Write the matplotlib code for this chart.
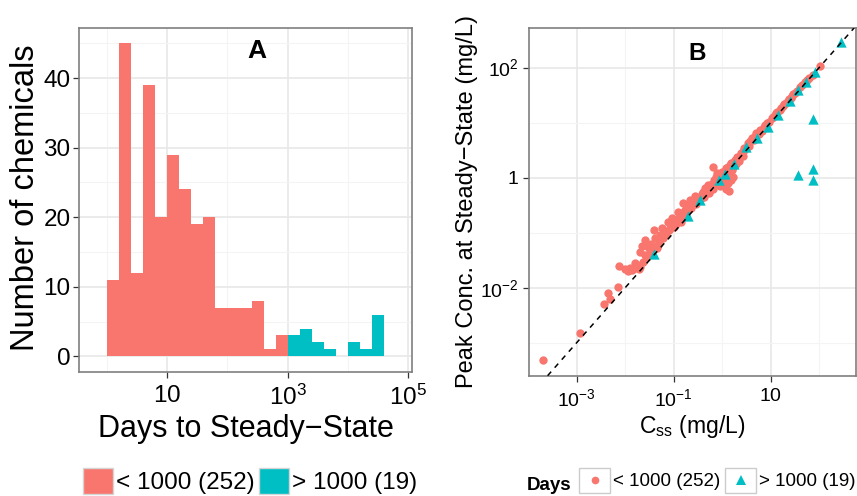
import numpy as np
import matplotlib
matplotlib.use("Agg")
import matplotlib.pyplot as plt
from matplotlib.patches import Rectangle
from matplotlib.lines import Line2D
from matplotlib.legend_handler import HandlerBase
from matplotlib.ticker import FixedLocator, NullFormatter, FixedFormatter

plt.rcParams['font.family'] = ['Liberation Sans', 'DejaVu Sans']
plt.rcParams['mathtext.fontset'] = 'custom'
plt.rcParams['mathtext.rm'] = 'Liberation Sans'
plt.rcParams['mathtext.it'] = 'Liberation Sans:italic'
plt.rcParams['mathtext.bf'] = 'Liberation Sans:bold'
plt.rcParams['mathtext.default'] = 'regular'

PINK = '#F8766D'
TEAL = '#00BFC4'

# ---------------- data: panel A (histogram, log10 days) ----------------
bin_edges_log = [-0.2, 0.0, 0.2, 0.4, 0.6, 0.8, 1.0, 1.2, 1.4, 1.6, 1.8, 2.0, 2.2,
                 2.4, 2.6, 2.8, 3.0, 3.2, 3.4, 3.6, 3.8, 4.0, 4.2, 4.4, 4.6, 4.8]
counts_lt1000 = [0, 11, 45, 12, 39, 20, 29, 24, 19, 20, 7, 7, 7, 8, 1, 3,
                 0, 0, 0, 0, 0, 0, 0, 0, 0]
counts_gt1000 = [0, 0, 0, 0, 0, 0, 0, 0, 0, 0, 0, 0, 0, 0, 0, 0,
                 3, 4, 2, 1, 0, 2, 1, 6, 0]
legend_labels = ['< 1000 (252)', '> 1000 (19)']

# ---------------- data: panel B (log10 mg/L) ----------------
pink_css_log = [-3.70, -2.94, -2.44, -2.36, -2.31, -2.14, -2.12, -2.00, -1.95, -1.90,
                -1.85, -1.80, -1.75, -1.72, -1.69, -1.63, -1.59, -1.59, -1.55, -1.53,
                -1.49, -1.45, -1.41, -1.39, -1.35, -1.32, -1.30, -1.28, -1.24, -1.22,
                -1.18, -1.15, -1.12, -1.10, -1.08, -1.05, -1.04, -1.00, -0.97, -0.95,
                -0.92, -0.91, -0.87, -0.85, -0.81, -0.80, -0.77, -0.75, -0.71, -0.70,
                -0.66, -0.65, -0.62, -0.60, -0.56, -0.55, -0.52, -0.50, -0.45, -0.42,
                -0.40, -0.38, -0.35, -0.33, -0.30, -0.29, -0.27, -0.25, -0.22, -0.19,
                -0.18, -0.17, -0.15, -0.13, -0.12, -0.09, -0.08, -0.05, -0.05, -0.02,
                0.00, 0.02, 0.04, 0.05, 0.05, 0.08, 0.08, 0.10, 0.12, 0.12,
                0.12, 0.15, 0.15, 0.16, 0.18, 0.18, 0.20, 0.22, 0.22, 0.25,
                0.26, 0.28, 0.30, 0.33, 0.35, 0.38, 0.39, 0.42, 0.45, 0.48,
                0.53, 0.55, 0.58, 0.61, 0.65, 0.68, 0.70, 0.75, 0.78, 0.82,
                0.86, 0.88, 0.92, 0.97, 1.03, 1.05, 1.08, 1.11, 1.14, 1.19,
                1.22, 1.25, 1.28, 1.32, 1.35, 1.38, 1.42, 1.44, 1.47, 1.50,
                1.55, 1.60, 1.65, 1.70, 1.75, 1.80, 1.87, 2.02, -1.69, -1.80,
                -1.65, -1.47, -1.20, -0.98, -0.83, -0.58, -0.36, -0.10, 0.31, 0.44]
pink_peak_log = [-3.31, -2.82, -2.30, -2.09, -2.21, -1.98, -1.61, -1.66, -1.70, -1.64,
                 -1.68, -1.64, -1.58, -1.66, -1.62, -1.53, -1.41, -1.13, -1.45, -1.26,
                 -1.35, -1.30, -0.95, -1.10, -1.28, -1.22, -1.15, -1.04, -0.91, -1.10,
                 -0.99, -1.05, -0.81, -0.95, -0.91, -0.88, -0.73, -0.90, -0.81, -0.85,
                 -0.75, -0.62, -0.73, -0.80, -0.46, -0.68, -0.59, -0.70, -0.51, -0.58,
                 -0.40, -0.55, -0.50, -0.45, -0.33, -0.48, -0.38, -0.40, -0.40, -0.30,
                 -0.26, -0.35, -0.28, -0.22, -0.20, -0.13, -0.28, -0.22, -0.12, 0.19,
                 -0.20, -0.04, -0.05, -0.11, 0.02, 0.03, -0.08, -0.15, 0.05, -0.05,
                 0.10, 0.08, -0.01, 0.12, -0.15, 0.18, -0.20, 0.02, 0.07, 0.20,
                 -0.10, 0.12, -0.25, 0.23, 0.26, -0.05, 0.14, 0.20, 0.02, 0.28,
                 0.32, 0.25, 0.38, 0.36, 0.30, 0.42, 0.45, 0.40, 0.54, 0.52,
                 0.63, 0.58, 0.66, 0.72, 0.68, 0.76, 0.81, 0.80, 0.87, 0.84,
                 0.92, 0.95, 0.99, 1.02, 1.09, 1.10, 1.13, 1.18, 1.19, 1.23,
                 1.27, 1.30, 1.33, 1.36, 1.39, 1.43, 1.45, 1.49, 1.52, 1.54,
                 1.58, 1.65, 1.69, 1.73, 1.78, 1.82, 1.87, 2.03, -1.35, -1.56,
                 -1.25, -1.20, -1.02, -0.78, -0.64, -0.43, -0.18, 0.09, 0.34, 0.50]
teal_css_log = [-1.41, -0.46, -0.07, 0.24, 0.50, 0.95, 1.16, 1.57, 1.91, 2.46,
                1.88, 1.57, 1.88, 1.88, -0.71, 0.06, 0.72, 1.40, 1.73]
teal_peak_log = [-1.39, -0.405, -0.042, 0.249, 0.56, 0.924, 1.13, 1.594, 1.927, 2.47,
                 1.06, 0.049, 0.158, -0.042, -0.70, 0.067, 0.72, 1.40, 1.74]
legend_labels_b = ['< 1000 (252)', '> 1000 (19)']

# ---------------- figure ----------------
W, H = 857, 496
fig = plt.figure(figsize=(W / 100, H / 100), dpi=100)


def fx(px):
    return px / W


def fy(py):
    return 1 - py / H


axA = fig.add_axes([fx(79), fy(372), fx(412) - fx(79), fy(28) - fy(372)])
axB = fig.add_axes([fx(528.7), fy(375.7), fx(856) - fx(528.7), fy(28) - fy(375.7)])

GRID_MAJ = '#E8E8E8'
GRID_MIN = '#F4F4F4'


def style(ax):
    ax.set_axisbelow(True)
    ax.grid(which='major', color=GRID_MAJ, lw=1.2)
    ax.grid(which='minor', color=GRID_MIN, lw=0.8)
    for s in ax.spines.values():
        s.set_color('#7F7F7F')
        s.set_linewidth(1.2)
    ax.tick_params(which='minor', length=0)
    ax.tick_params(which='major', length=4.2, width=0.9, color='#333333',
                   labelcolor='black')


# ---- Panel A ----
edges = 10 ** np.array(bin_edges_log)
lefts = edges[:-1]
widths = np.diff(edges)
axA.bar(lefts, counts_lt1000, width=widths, align='edge', color=PINK, linewidth=0)
axA.bar(lefts, counts_gt1000, width=widths, bottom=counts_lt1000, align='edge',
        color=TEAL, linewidth=0)
axA.set_xscale('log')
axA.set_xlim(10 ** -0.46, 10 ** 5.06)
axA.set_ylim(-2.25, 47.2)
axA.xaxis.set_major_locator(FixedLocator([10, 1e3, 1e5]))
axA.xaxis.set_major_formatter(FixedFormatter(['$10$', '$10^{3}$', '$10^{5}$']))
axA.xaxis.set_minor_locator(FixedLocator([1, 100, 1e4]))
axA.xaxis.set_minor_formatter(NullFormatter())
axA.yaxis.set_major_locator(FixedLocator([0, 10, 20, 30, 40]))
axA.yaxis.set_minor_locator(FixedLocator([5, 15, 25, 35, 45]))
style(axA)
axA.tick_params(axis='both', which='major', labelsize=17.5)
axA.tick_params(axis='y', pad=1.9)
axA.tick_params(axis='x', pad=5)
axA.text(10 ** 2.49, 43.9, 'A', weight='bold', size=19, ha='center', va='center')

fig.text(fx(34), fy(198), 'Number of chemicals', rotation=90, ha='center',
         va='baseline', rotation_mode='anchor', size=23.5)
fig.text(fx(245.5), fy(437), 'Days to Steady\u2212State', ha='center',
         va='baseline', size=22)

# ---- Panel B ----
axB.set_xscale('log')
axB.set_yscale('log')
axB.scatter(10 ** np.array(pink_css_log), 10 ** np.array(pink_peak_log), s=36,
            color=PINK, marker='o', linewidths=0, zorder=2)
axB.scatter(10 ** np.array(teal_css_log), 10 ** np.array(teal_peak_log), s=55,
            color=TEAL, marker='^', linewidths=0, zorder=3)
axB.axline((1, 1), (10, 10), color='black', lw=1.1, linestyle=(0, (3.5, 3.5)),
           zorder=4)
axB.set_xlim(10 ** -3.99, 10 ** 2.76)
axB.set_ylim(10 ** -3.6, 10 ** 2.72)
axB.xaxis.set_major_locator(FixedLocator([1e-3, 1e-1, 10]))
axB.xaxis.set_major_formatter(FixedFormatter(['$10^{-3}$', '$10^{-1}$', '$10$']))
axB.xaxis.set_minor_locator(FixedLocator([1e-2, 1, 100]))
axB.xaxis.set_minor_formatter(NullFormatter())
axB.yaxis.set_major_locator(FixedLocator([1e-2, 1, 1e2]))
axB.yaxis.set_major_formatter(FixedFormatter(['$10^{-2}$', '$1$', '$10^{2}$']))
axB.yaxis.set_minor_locator(FixedLocator([1e-3, 1e-1, 10]))
axB.yaxis.set_minor_formatter(NullFormatter())
style(axB)
axB.tick_params(axis='both', which='major', labelsize=14)
axB.tick_params(axis='y', pad=3.2)
axB.tick_params(axis='x', pad=5)
axB.text(10 ** -0.51, 10 ** 2.26, 'B', weight='bold', size=17.5, ha='center',
         va='center')

fig.text(fx(473.3), fy(202), 'Peak Conc. at Steady\u2212State (mg/L)', rotation=90,
         ha='center', va='baseline', rotation_mode='anchor', size=17)
fig.text(fx(692), fy(432.7), 'C$_{ss}$ (mg/L)', ha='center', va='baseline', size=16.5)


# ---- legends ----
class KeyHandler(HandlerBase):
    def __init__(self, face, edge, marker=None, mcolor=None, ms=0):
        super().__init__()
        self.face, self.edge = face, edge
        self.marker, self.mcolor, self.ms = marker, mcolor, ms

    def create_artists(self, legend, orig_handle, xdescent, ydescent, width,
                       height, fontsize, trans):
        arts = [Rectangle((-xdescent, -ydescent), width, height,
                          facecolor=self.face, edgecolor=self.edge, lw=1.0,
                          transform=trans)]
        if self.marker:
            arts.append(Line2D([-xdescent + width / 2], [-ydescent + height / 2],
                               marker=self.marker, color=self.mcolor, ms=self.ms,
                               ls='none', mew=0, transform=trans))
        return arts


hA1, hA2 = Line2D([], []), Line2D([], [])
fsA = 17.5
fig.legend([hA1, hA2], legend_labels, loc='upper left',
           bbox_to_anchor=(fx(83), fy(468)), ncol=2, frameon=False, fontsize=fsA,
           handlelength=30 / (fsA * 100 / 72), handleheight=1.3,
           handletextpad=0.12, columnspacing=0.18, borderpad=0, borderaxespad=0,
           handler_map={hA1: KeyHandler(PINK, '#D5D5D5'),
                        hA2: KeyHandler(TEAL, '#D5D5D5')})

fsB = 13.5
fig.text(fx(527), fy(485), 'Days', weight='bold', size=fsB, ha='left', va='center')
hB1, hB2 = Line2D([], []), Line2D([], [])
fig.legend([hB1, hB2], legend_labels_b, loc='upper left',
           bbox_to_anchor=(fx(579), fy(468)), ncol=2, frameon=False, fontsize=fsB,
           handlelength=31 / (fsB * 100 / 72), handleheight=1.65,
           handletextpad=0.16, columnspacing=0.27, borderpad=0, borderaxespad=0,
           handler_map={hB1: KeyHandler('white', '#CCCCCC', 'o', PINK, 5.5),
                        hB2: KeyHandler('white', '#CCCCCC', '^', TEAL, 6.5)})

fig.savefig('out.png', dpi=100)
